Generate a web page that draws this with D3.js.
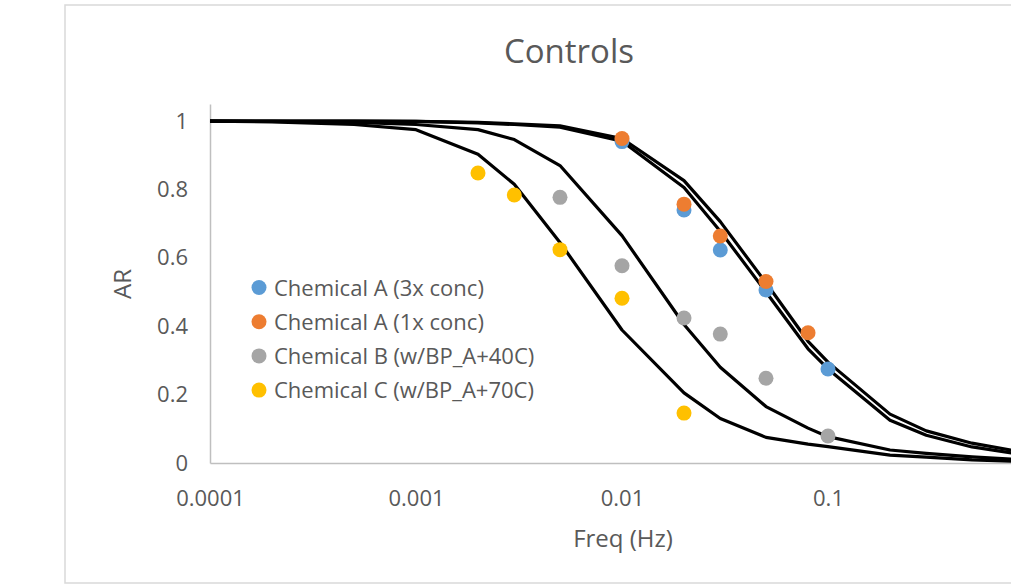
<!DOCTYPE html>
<html>
<head>
<meta charset="utf-8">
<script src="https://cdn.jsdelivr.net/npm/d3@7"></script>
<style>
  html, body { margin: 0; padding: 0; background: #ffffff; overflow: hidden; }
  svg { display: block; font-family: "Open Sans", sans-serif; }
</style>
</head>
<body>
<svg id="chart" width="1011" height="586"></svg>
<script>
// Measured points (frequency in Hz, amplitude ratio)
const seriesNames = [
  "Chemical A (3x conc)",
  "Chemical A (1x conc)",
  "Chemical B (w/BP_A+40C)",
  "Chemical C (w/BP_A+70C)"
];
const seriesColors = ["#5B9BD5", "#ED7D31", "#A5A5A5", "#FFC000"];

const freqA3 = [0.01, 0.02, 0.03, 0.05, 0.1];
const arA3   = [0.94, 0.74, 0.623, 0.506, 0.275];
const freqA1 = [0.01, 0.02, 0.03, 0.05, 0.08];
const arA1   = [0.949, 0.757, 0.664, 0.531, 0.381];
const freqB  = [0.005, 0.01, 0.02, 0.03, 0.05, 0.1];
const arB    = [0.777, 0.577, 0.424, 0.377, 0.248, 0.079];
const freqC  = [0.002, 0.003, 0.005, 0.01, 0.02];
const arC    = [0.848, 0.784, 0.624, 0.482, 0.146];

// Fitted model curves, evaluated on a common frequency grid
const modelFreq = [0.0001, 0.0002, 0.0005, 0.001, 0.002, 0.003, 0.005, 0.01, 0.02, 0.03, 0.05, 0.08, 0.1, 0.2, 0.3, 0.5, 1];
const modelA1 = [1, 1, 1, 0.999, 0.996, 0.992, 0.986, 0.949, 0.826, 0.706, 0.527, 0.356, 0.295, 0.143, 0.094, 0.058, 0.026];
const modelA3 = [1, 1, 1, 0.999, 0.995, 0.990, 0.982, 0.941, 0.806, 0.678, 0.500, 0.334, 0.275, 0.125, 0.081, 0.047, 0.019];
const modelB  = [1, 0.999, 0.996, 0.990, 0.975, 0.946, 0.870, 0.665, 0.405, 0.280, 0.165, 0.102, 0.077, 0.038, 0.028, 0.018, 0.008];
const modelC  = [1, 0.998, 0.990, 0.975, 0.903, 0.815, 0.645, 0.389, 0.205, 0.130, 0.075, 0.055, 0.048, 0.023, 0.017, 0.009, 0.003];

const xTicks = [0.0001, 0.001, 0.01, 0.1];
const xTickLabels = ["0.0001", "0.001", "0.01", "0.1"];
const yTicks = [0, 0.2, 0.4, 0.6, 0.8, 1];
const yTickLabels = ["0", "0.2", "0.4", "0.6", "0.8", "1"];

const textColor = "#595959";
const axisColor = "#BFBFBF";

const svg = d3.select("#chart");

// Chart frame
svg.append("rect")
  .attr("x", 65).attr("y", 5)
  .attr("width", 1100).attr("height", 578)
  .attr("fill", "#ffffff")
  .attr("stroke", "#D9D9D9")
  .attr("stroke-width", 1.5);

const x = d3.scaleLog().domain([0.0001, 1]).range([210, 1034]);
const y = d3.scaleLinear().domain([0, 1.05]).range([463, 104]);

// Title
svg.append("text")
  .attr("x", 569).attr("y", 63)
  .attr("text-anchor", "middle")
  .attr("font-size", 33)
  .attr("fill", textColor)
  .text("Controls");

// Axes
const xAxis = d3.axisBottom(x)
  .tickValues(xTicks)
  .tickFormat((d, i) => xTickLabels[i])
  .tickSize(0)
  .tickPadding(27);
const gx = svg.append("g").attr("transform", `translate(0,${y(0)})`).call(xAxis);
gx.select(".domain").attr("stroke", axisColor).attr("stroke-width", 1.5);
gx.selectAll("text").attr("font-size", 22).attr("fill", textColor).attr("font-family", "Open Sans, sans-serif");

const yAxis = d3.axisLeft(y)
  .tickValues(yTicks)
  .tickFormat((d, i) => yTickLabels[i])
  .tickSize(0)
  .tickPadding(22);
const gy = svg.append("g").attr("transform", `translate(${x(0.0001)},0)`).call(yAxis);
gy.select(".domain").attr("stroke", axisColor).attr("stroke-width", 1.5);
gy.selectAll("text").attr("font-size", 22).attr("fill", textColor).attr("font-family", "Open Sans, sans-serif");

// Axis titles
svg.append("text")
  .attr("transform", "translate(131,284) rotate(-90)")
  .attr("text-anchor", "middle")
  .attr("font-size", 24)
  .attr("fill", textColor)
  .text("AR");
svg.append("text")
  .attr("x", 623).attr("y", 547)
  .attr("text-anchor", "middle")
  .attr("font-size", 24)
  .attr("fill", textColor)
  .text("Freq (Hz)");

// Model curves
const line = d3.line()
  .x(d => x(d[0]))
  .y(d => y(d[1]));
[modelA3, modelA1, modelB, modelC].forEach(vals => {
  svg.append("path")
    .datum(modelFreq.map((f, i) => [f, vals[i]]))
    .attr("d", line)
    .attr("fill", "none")
    .attr("stroke", "#000000")
    .attr("stroke-width", 3.2)
    .attr("stroke-linejoin", "round");
});

// Measured points
const pointSets = [[freqA3, arA3], [freqA1, arA1], [freqB, arB], [freqC, arC]];
pointSets.forEach(([fs, vs], s) => {
  svg.append("g").selectAll("circle")
    .data(fs.map((f, i) => [f, vs[i]]))
    .join("circle")
    .attr("cx", d => x(d[0]))
    .attr("cy", d => y(d[1]))
    .attr("r", 7.5)
    .attr("fill", seriesColors[s]);
});

// Legend
const legend = svg.append("g");
seriesNames.forEach((name, i) => {
  const cy = 287.5 + i * 34.2;
  legend.append("circle")
    .attr("cx", 259).attr("cy", cy).attr("r", 7.5)
    .attr("fill", seriesColors[i]);
  legend.append("text")
    .attr("x", 274).attr("y", cy + 8)
    .attr("font-size", 22)
    .attr("fill", textColor)
    .text(name);
});
</script>
</body>
</html>
